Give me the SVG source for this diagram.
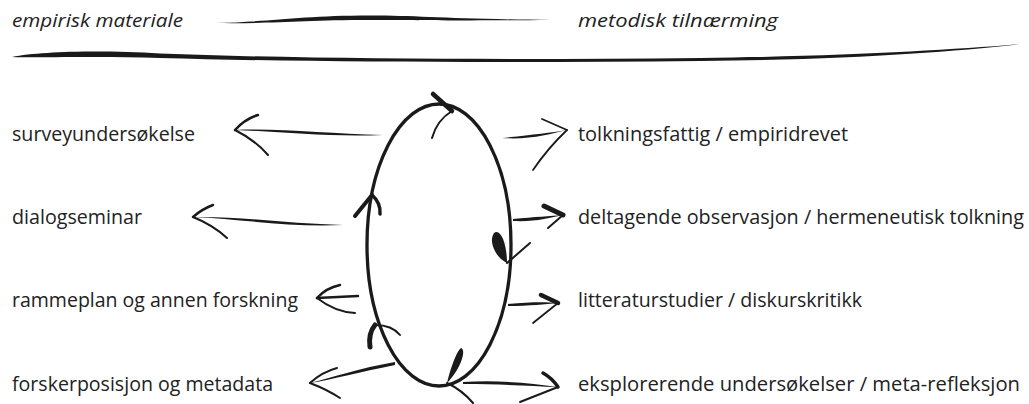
<svg xmlns="http://www.w3.org/2000/svg" width="1029" height="404" viewBox="0 0 1029 404">
<style>
.t{font-family:"Open Sans","Liberation Sans",sans-serif;font-size:20px;fill:#222}
.h{font-style:italic;font-size:19px}
.s{fill:none;stroke:#1a1a1a;stroke-linecap:round;stroke-linejoin:round}
.f{fill:#1a1a1a}
</style>
<rect width="1029" height="404" fill="#fff"/>
<g id="header">
<text class="t h" x="12" y="27" textLength="171" lengthAdjust="spacingAndGlyphs">empirisk materiale</text>
<text class="t h" x="578" y="27" textLength="200" lengthAdjust="spacingAndGlyphs">metodisk tilnærming</text>
<path class="f" d="M215,23 C270,22 300,15.5 370,15.5 C420,15.5 450,19 552,20 C450,21 420,20 370,20 C300,20 270,24 215,23 Z"/>
<path class="f" d="M12,57 C40,51.5 100,50 160,53.5 C300,59 500,60 700,58 C850,56 950,50 1022,44 C950,52 850,59.5 700,61 C500,63 300,62 160,58 C100,56 40,58 12,57 Z"/>
</g>
<g id="cycle">
<ellipse class="s" cx="439" cy="245" rx="72" ry="141" stroke-width="3.3"/>
<path class="s" stroke-width="4.5" d="M433,94 L452,111"/>
<path class="s" stroke-width="2" d="M452,111 Q437,120 432,138"/>
<path class="s" stroke-width="4" d="M372,195 L355,216"/>
<path class="s" stroke-width="3.5" d="M372,195 Q381,203 380,214"/>
<path class="f" d="M507,263 C496,258 488,242 494,233 C501,228 507,245 507,263 Z"/>
<path class="s" stroke-width="2" d="M507,263 L530,243"/>
<path class="f" d="M447,383 C450,370 456,352 461,348 C467,350 460,370 447,383 Z"/>
<path class="s" stroke-width="2" d="M447,383 Q462,390 473,403"/>
<path class="s" stroke-width="5" d="M375,325 C370,331 369,340 370,347"/>
<path class="s" stroke-width="2" d="M375,325 Q392,325 400,335"/>
</g>
<g id="connectors">
<path class="f" d="M383,135 C330,134 280,128 235,130 C280,131.5 330,137.5 383,135 Z"/>
<path class="s" stroke-width="2.5" d="M235,130 Q245,119 258,115"/>
<path class="s" stroke-width="2" d="M235,130 Q255,140 268,155"/>
<path class="f" d="M343,225 C290,224 240,216 193,217 C240,219 290,227.5 343,225 Z"/>
<path class="s" stroke-width="2.5" d="M193,217 Q202,209 213,205"/>
<path class="s" stroke-width="2" d="M193,217 Q213,225 227,238"/>
<path class="s" stroke-width="2.5" d="M358,296 L317,298"/>
<path class="s" stroke-width="2.5" d="M317,298 Q326,288 340,285"/>
<path class="s" stroke-width="2" d="M317,298 Q335,312 355,313"/>
<path class="f" d="M395,362 C360,368 330,378 310,383 C330,380 360,372 395,365 Z"/>
<path class="s" stroke-width="2" d="M310,383 Q322,372 337,368"/>
<path class="s" stroke-width="2" d="M310,383 Q328,390 340,398"/>
<path class="f" d="M502,138 C530,135 550,133 567,130 C550,134 530,140 502,138 Z"/>
<path class="s" stroke-width="1.8" d="M567,130 L542,119"/>
<path class="s" stroke-width="1.8" d="M567,130 Q548,148 533,170"/>
<path class="f" d="M513,219 C535,217 550,216 563,215 C550,218 535,222 513,221 Z"/>
<path class="s" stroke-width="5" d="M563,215 L544,206"/>
<path class="s" stroke-width="2" d="M563,215 L548,228"/>
<path class="f" d="M508,304 C530,302 545,302 558,303 C545,304 530,306 508,306 Z"/>
<path class="s" stroke-width="4.5" d="M558,303 L541,295"/>
<path class="s" stroke-width="1.8" d="M558,303 L533,323"/>
<path class="f" d="M463,382 C500,380 530,383 558,387 C530,386 500,384 463,384 Z"/>
<path class="s" stroke-width="3.5" d="M558,387 Q552,378 543,373"/>
<path class="s" stroke-width="2" d="M558,387 L520,402"/>
</g>
<g id="n1"><text class="t" x="12" y="141" textLength="183" lengthAdjust="spacingAndGlyphs">surveyundersøkelse</text></g>
<g id="n2"><text class="t" x="12" y="224" textLength="130" lengthAdjust="spacingAndGlyphs">dialogseminar</text></g>
<g id="n3"><text class="t" x="12" y="307" textLength="286" lengthAdjust="spacingAndGlyphs">rammeplan og annen forskning</text></g>
<g id="n4"><text class="t" x="12" y="391" textLength="261" lengthAdjust="spacingAndGlyphs">forskerposisjon og metadata</text></g>
<g id="n5"><text class="t" x="578" y="141" textLength="270" lengthAdjust="spacingAndGlyphs">tolkningsfattig / empiridrevet</text></g>
<g id="n6"><text class="t" x="578" y="224" textLength="446" lengthAdjust="spacingAndGlyphs">deltagende observasjon / hermeneutisk tolkning</text></g>
<g id="n7"><text class="t" x="578" y="307" textLength="284" lengthAdjust="spacingAndGlyphs">litteraturstudier / diskurskritikk</text></g>
<g id="n8"><text class="t" x="578" y="391" textLength="442" lengthAdjust="spacingAndGlyphs">eksplorerende undersøkelser / meta-refleksjon</text></g>
</svg>
